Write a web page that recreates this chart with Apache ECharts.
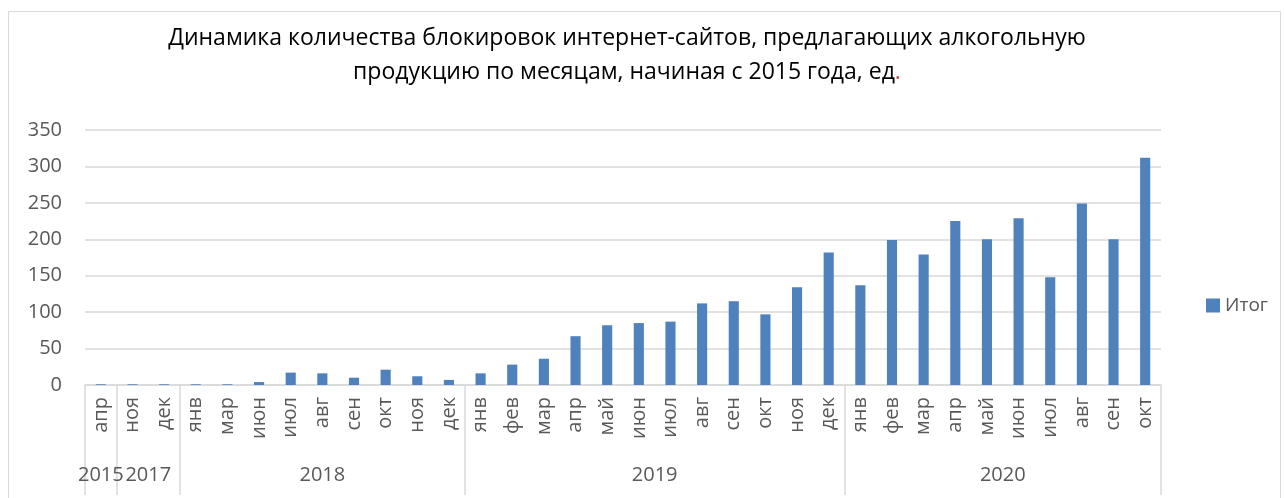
<!DOCTYPE html>
<html><head><meta charset="utf-8">
<script src="https://cdn.jsdelivr.net/npm/echarts@6/dist/echarts.min.js"></script>
<style>html,body{margin:0;padding:0;background:#fff}#c{width:1284px;height:498px}</style>
</head><body><div id="c"></div>
<script>
var months = ['апр','ноя','дек','янв','мар','июн','июл','авг','сен','окт','ноя','дек',
  'янв','фев','мар','апр','май','июн','июл','авг','сен','окт','ноя','дек',
  'янв','фев','мар','апр','май','июн','июл','авг','сен','окт'];
var values = [1,1,1,1,1,4,17,16,10,21,12,7,
  16,28,36,67,82,85,87,112,115,97,134,182,
  137,199,179,225,200,229,148,249,200,312];
var years = ['2015','2017','2018','2019','2020'];
var groupSizes = [1,2,9,12,10];
var yTicks = [0,50,100,150,200,250,300,350];

var bounds = [0], centers = [];
groupSizes.forEach(function(n){ var s = bounds[bounds.length-1]; centers.push(s + n/2); bounds.push(s + n); });
var total = bounds[bounds.length-1];

var font = 'Open Sans';
var chart = echarts.init(document.getElementById('c'));
chart.setOption({
  animation: false,
  textStyle: {fontFamily: font},
  title: {
    text: 'Динамика количества блокировок интернет-сайтов, предлагающих алкогольную\nпродукцию по месяцам, начиная с 2015 года, ед{d|.}',
    left: 622, textAlign: 'center', top: 16,
    textStyle: {fontSize: 23, fontWeight: 'normal', color: '#000', lineHeight: 34, fontFamily: font,
      rich: {d: {color: '#c0504d', fontSize: 23, fontFamily: font}}}
  },
  legend: {
    data: ['Итог'], right: 11, top: 291, itemWidth: 14, itemHeight: 14, itemGap: 6, icon: 'rect',
    textStyle: {fontSize: 19, color: '#595959', fontFamily: font}
  },
  graphic: [{type: 'rect', shape: {x: 8.5, y: 11.5, width: 1272, height: 520}, style: {fill: 'none', stroke: '#d9d9d9', lineWidth: 1}, silent: true, z: -1}],
  grid: {left: 85, right: 123, top: 130, bottom: 113},
  xAxis: [{
    type: 'category', data: months, position: 'bottom',
    axisLine: {show: true, lineStyle: {color: '#d9d9d9', width: 1.5}},
    axisTick: {show: false},
    axisLabel: {rotate: 90, fontSize: 20, color: '#595959', margin: 12, interval: 0, fontFamily: font}
  }, {
    type: 'value', min: 0, max: total, position: 'bottom',
    axisLine: {show: false}, splitLine: {show: false},
    axisTick: {show: true, customValues: bounds, length: 110, lineStyle: {color: '#d9d9d9', width: 1.5}},
    axisLabel: {show: true, customValues: centers, margin: 80, fontSize: 20, color: '#595959', fontFamily: font,
      formatter: function(v){ var i = centers.indexOf(v); return i >= 0 ? years[i] : ''; }}
  }],
  yAxis: {
    type: 'value', min: yTicks[0], max: yTicks[yTicks.length-1], interval: 50,
    axisLine: {show: false}, axisTick: {show: false},
    axisLabel: {fontSize: 20, color: '#595959', margin: 23, fontFamily: font},
    splitLine: {lineStyle: {color: '#d9d9d9', width: 1.5}}
  },
  series: [{
    name: 'Итог', type: 'bar', xAxisIndex: 0, data: values, barWidth: '32%',
    itemStyle: {color: '#4f81bd'}
  }]
});
</script></body></html>
